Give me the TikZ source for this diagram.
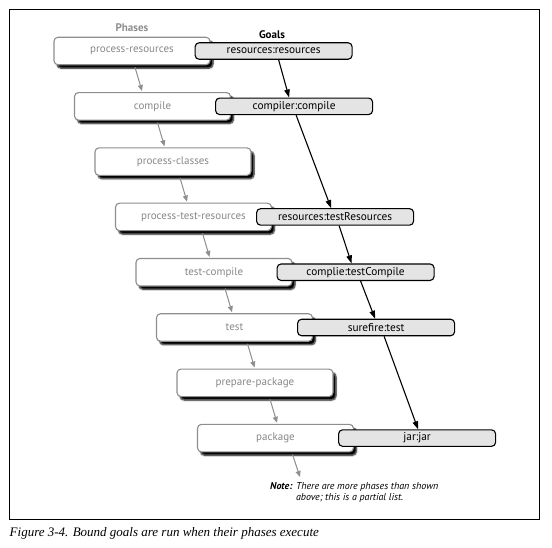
\documentclass[tikz,border=0pt]{standalone}
\usepackage{fontspec}
\setmainfont{PT Sans}
\newfontfamily\capfont{Liberation Serif}
\usepackage{tikz}
\usetikzlibrary{arrows.meta}
\usetikzlibrary{positioning}
\usetikzlibrary{shadows.blur}
\definecolor{phaseline}{HTML}{8E8E8E}
\definecolor{phasetext}{HTML}{888888}
\definecolor{goalfill}{HTML}{E4E4E4}
\tikzset{
  phase/.style={draw=phaseline, line width=1.1pt, fill=white, rounded corners=4pt,
    minimum width=156pt, minimum height=27.5pt, text=phasetext,
    font=\fontsize{11}{13}\selectfont,
    blur shadow={shadow xshift=3pt, shadow yshift=-3.5pt, shadow blur radius=1.5pt,
      shadow opacity=100, shadow blur steps=6}},
  goal/.style={draw=black, line width=1.1pt, fill=goalfill, rounded corners=4pt,
    minimum width=157pt, minimum height=16.5pt, inner sep=0pt,
    font=\fontsize{11.3}{13}\selectfont},
  phasearrow/.style={draw=phaseline, line width=1pt, -{Triangle[length=6pt,width=5pt]}},
  goalarrow/.style={line width=1.1pt, -{Triangle[length=8pt,width=5.5pt]}},
}

\begin{document}
\begin{tikzpicture}[x=1pt,y=-1pt]
\useasboundingbox (0,0) rectangle (552,547);
\draw [line width=1pt] (9.5,9.5) rectangle (539.5,519.5);

% phases
\node [phase] (pres) at (132,51) {process-resources};
\node [phase] (pcomp) at (152.5,106.3) {compile};
\node [phase] (pclass) at (173,161.6) {process-classes};
\node [phase] (ptres) at (193.5,216.9) {process-test-resources};
\node [phase] (ptcomp) at (214,272.2) {test-compile};
\node [phase] (ptest) at (234.5,327.5) {test};
\node [phase] (pprep) at (255,382.8) {prepare-package};
\node [phase] (ppack) at (275.5,438.1) {package};
\coordinate (pmore) at (300,477);

% goals
\node [goal, right=-16pt of pres] (gres) {resources:resources};
\node [goal, right=-16pt of pcomp] (gcomp) {compiler:compile};
\node [goal, right=-16pt of ptres] (gtres) {resources:testResources};
\node [goal, right=-16pt of ptcomp] (gtcomp) {complie:testCompile};
\node [goal, right=-16pt of ptest] (gtest) {surefire:test};
\node [goal, right=-16pt of ppack] (gjar) {jar:jar};

\draw [phasearrow] ([xshift=3pt,yshift=-2pt]pres.south) -- ([xshift=-10.5pt,yshift=1pt]pcomp.north);
\draw [phasearrow] ([xshift=5pt,yshift=-2pt]pcomp.south) -- ([xshift=-8.5pt,yshift=1pt]pclass.north);
\draw [phasearrow] ([xshift=7pt,yshift=-2pt]pclass.south) -- ([xshift=-6.5pt,yshift=1pt]ptres.north);
\draw [phasearrow] ([xshift=9pt,yshift=-2pt]ptres.south) -- ([xshift=-4.5pt,yshift=1pt]ptcomp.north);
\draw [phasearrow] ([xshift=11pt,yshift=-2pt]ptcomp.south) -- ([xshift=-2.5pt,yshift=1pt]ptest.north);
\draw [phasearrow] ([xshift=13pt,yshift=-2pt]ptest.south) -- ([xshift=-0.5pt,yshift=1pt]pprep.north);
\draw [phasearrow] ([xshift=15pt,yshift=-2pt]pprep.south) -- ([xshift=1.5pt,yshift=1pt]ppack.north);
\draw [phasearrow] ([xshift=17pt,yshift=-2pt]ppack.south) -- (pmore);

\draw [goalarrow] ([xshift=5pt]gres.south) -- ([xshift=-5pt]gcomp.north);
\draw [goalarrow] ([xshift=2pt]gcomp.south) -- ([xshift=-4pt]gtres.north);
\draw [goalarrow] ([xshift=4pt]gtres.south) -- ([xshift=-4pt]gtcomp.north);
\draw [goalarrow] ([xshift=5pt]gtcomp.south) -- ([xshift=-1pt]gtest.north);
\draw [goalarrow] ([xshift=8pt]gtest.south) -- ([xshift=1pt]gjar.north);

\node [text=phaseline, font=\bfseries\fontsize{11}{13}\selectfont] (phlabel) at (132,28) {Phases};
\node [font=\bfseries\fontsize{11}{13}\selectfont] (golabel) at (272,34.5) {Goals};
\node [anchor=north west, inner sep=0pt, font=\itshape\fontsize{10}{11}\selectfont] (note) at (270,481.5)
  {\begin{tabular}{@{}l@{ }l@{}}\textbf{Note:} & There are more phases than shown\\ & above; this is a partial list.\end{tabular}};
\node [anchor=west, inner sep=0pt, font=\capfont\itshape\fontsize{13}{15}\selectfont] (caption) at (9.5,533.5)
  {Figure 3-4. Bound goals are run when their phases execute};
\end{tikzpicture}
\end{document}
